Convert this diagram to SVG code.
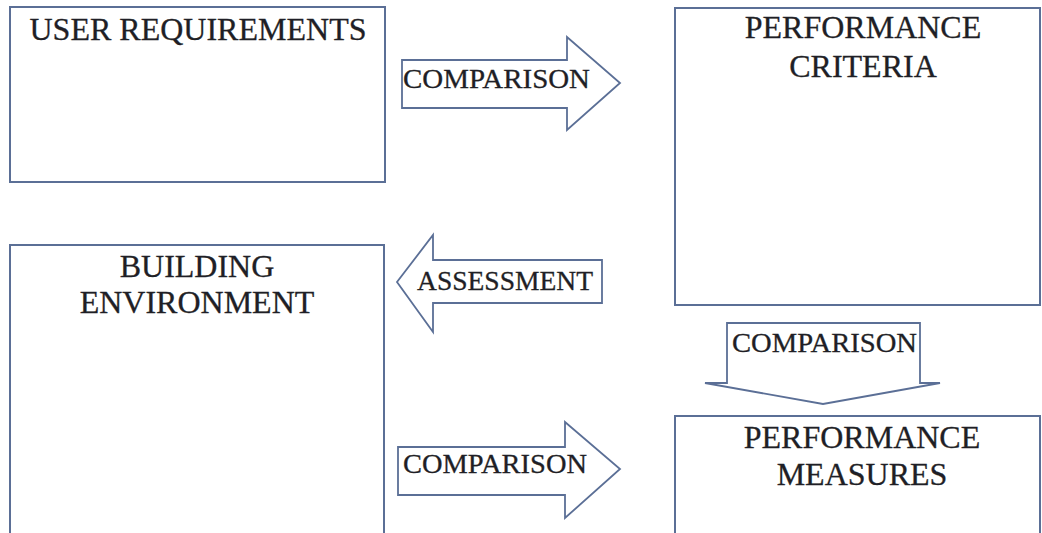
<svg xmlns="http://www.w3.org/2000/svg" width="1042" height="533" viewBox="0 0 1042 533">
<style>
.box{fill:#fff;stroke:#5b6f96;stroke-width:2}
.arr{fill:#fff;stroke:#5b6f96;stroke-width:1.8;stroke-linejoin:miter}
.t{font-family:"Liberation Serif","Times New Roman",serif;font-size:32px;fill:#1f1f26;text-anchor:middle;stroke:#1f1f26;stroke-width:0.3}
.a{font-family:"Liberation Serif","Times New Roman",serif;font-size:27px;fill:#1f1f26;stroke:#1f1f26;stroke-width:0.3}
</style>
<rect width="1042" height="533" fill="#fff"/>
<g id="user-requirements">
<rect class="box" x="10" y="7" width="375" height="175"/>
<text class="t" x="198" y="40" textLength="337" lengthAdjust="spacingAndGlyphs">USER REQUIREMENTS</text>
</g>
<g id="performance-criteria">
<rect class="box" x="675" y="8" width="365" height="297"/>
<text class="t" x="863" y="38">PERFORMANCE</text>
<text class="t" x="863" y="77">CRITERIA</text>
</g>
<g id="building-environment">
<rect class="box" x="10" y="245" width="374" height="300"/>
<text class="t" x="197" y="277">BUILDING</text>
<text class="t" x="197" y="313">ENVIRONMENT</text>
</g>
<g id="performance-measures">
<rect class="box" x="675" y="416" width="365" height="130"/>
<text class="t" x="862" y="448">PERFORMANCE</text>
<text class="t" x="862" y="485">MEASURES</text>
</g>
<g id="connectors">
<g id="arrow-comparison-1">
<polygon class="arr" points="402,60 567,60 567,37 620,83 567,130 567,108 402,108"/>
<text class="a" x="403" y="88" textLength="187" lengthAdjust="spacingAndGlyphs">COMPARISON</text>
</g>
<g id="arrow-assessment">
<polygon class="arr" points="602,260 433,260 433,235 397,282 433,332 433,303 602,303"/>
<text class="a" x="417" y="290" textLength="176" lengthAdjust="spacingAndGlyphs">ASSESSMENT</text>
</g>
<g id="arrow-comparison-2">
<polygon class="arr" points="727,323 920,323 920,383 940,383 823,404 705,383 727,383"/>
<text class="a" x="732" y="352" textLength="185" lengthAdjust="spacingAndGlyphs">COMPARISON</text>
</g>
<g id="arrow-comparison-3">
<polygon class="arr" points="398,447 565,447 565,422 620,469 565,518 565,495 398,495"/>
<text class="a" x="403" y="473" textLength="184" lengthAdjust="spacingAndGlyphs">COMPARISON</text>
</g>
</g>
</svg>
